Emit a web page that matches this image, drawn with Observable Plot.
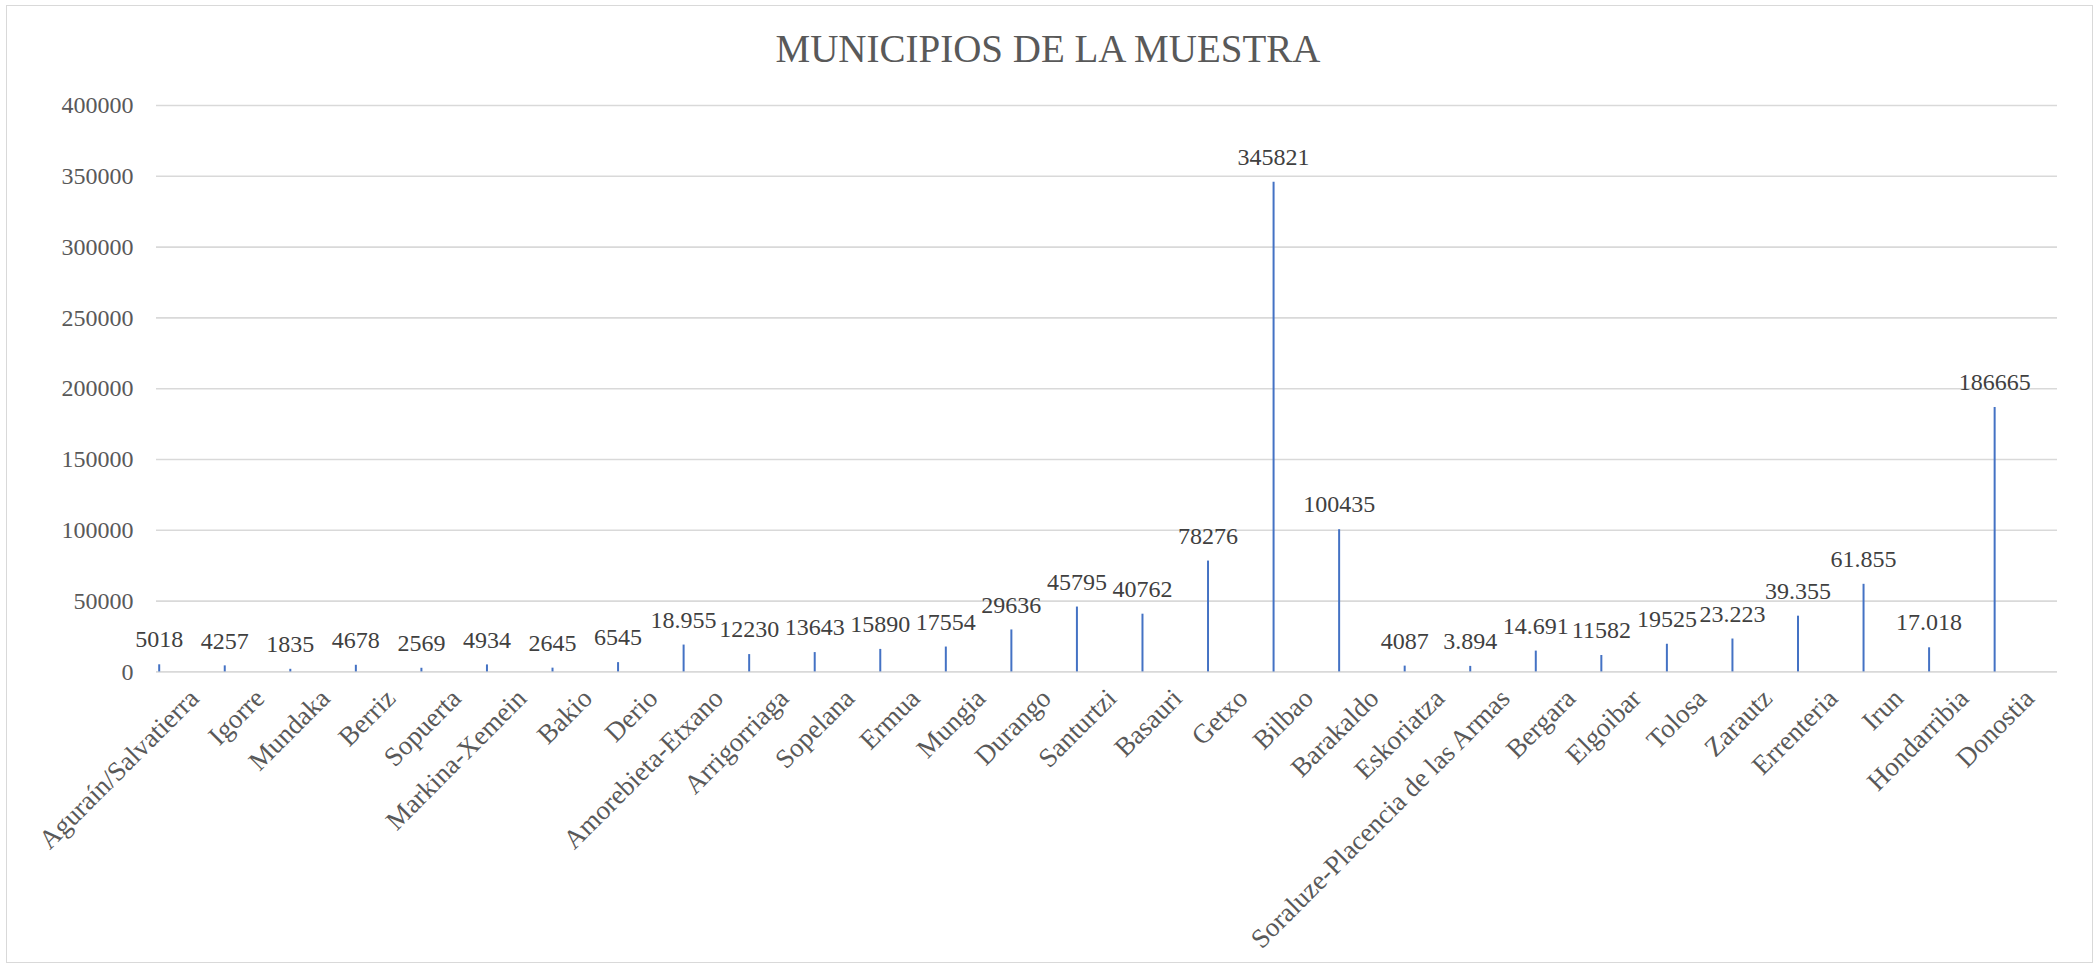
<!DOCTYPE html>
<html>
<head>
<meta charset="utf-8">
<script src="https://cdn.jsdelivr.net/npm/d3@7"></script>
<script src="https://cdn.jsdelivr.net/npm/@observablehq/plot@0.6"></script>
<style>
  html, body { margin: 0; padding: 0; background: #fff; }
  #wrap { position: relative; width: 2096px; height: 966px; overflow: hidden; }
  #frame { position: absolute; left: 6px; top: 5px; width: 2087px; height: 958px; border: 1.5px solid #d9d9d9; box-sizing: border-box; pointer-events: none; }
  #title { position: absolute; left: 0; top: 0; width: 2096px; height: 80px; text-align: center; font-family: "Liberation Serif", serif; font-size: 39px; color: #595959; line-height: 98px; }
  #chart { position: absolute; left: 0; top: 80px; }
</style>
</head>
<body>
<div id="wrap">
  <div id="title">MUNICIPIOS DE LA MUESTRA</div>
  <div id="chart"></div>
  <div id="frame"></div>
</div>
<script>
const municipios = ["Aguraín/Salvatierra","Igorre","Mundaka","Berriz","Sopuerta","Markina-Xemein","Bakio","Derio","Amorebieta-Etxano","Arrigorriaga","Sopelana","Ermua","Mungia","Durango","Santurtzi","Basauri","Getxo","Bilbao","Barakaldo","Eskoriatza","Soraluze-Placencia de las Armas","Bergara","Elgoibar","Tolosa","Zarautz","Errenteria","Irun","Hondarribia","Donostia"];
const poblacion = [5018,4257,1835,4678,2569,4934,2645,6545,18955,12230,13643,15890,17554,29636,45795,40762,78276,345821,100435,4087,3894,14691,11582,19525,23223,39355,61855,17018,186665];
const etiquetas = ["5018","4257","1835","4678","2569","4934","2645","6545","18.955","12230","13643","15890","17554","29636","45795","40762","78276","345821","100435","4087","3.894","14.691","11582","19525","23.223","39.355","61.855","17.018","186665"];
const yTicks = [0,50000,100000,150000,200000,250000,300000,350000,400000];

const data = municipios.map((m, i) => ({name: m, value: poblacion[i], label: etiquetas[i]}));

const W = 2096, H = 886;
const mL = 156, mR = 39, mT = 25, mB = 294.6;
const bw = (W - mL - mR) / municipios.length;
const off = -bw / 2 + 2.7;
const font = '"Liberation Serif", serif';

const chart = Plot.plot({
  width: W, height: H,
  marginLeft: mL, marginRight: mR, marginTop: mT, marginBottom: mB,
  style: {fontFamily: font, fontSize: "24px", color: "#595959", background: "transparent"},
  x: {type: "band", domain: municipios, padding: 0, round: false, label: null},
  y: {domain: [0, 400000], label: null},
  marks: [
    Plot.gridY(yTicks, {stroke: "#d9d9d9", strokeOpacity: 1, strokeWidth: 1.6}),
    Plot.axisY({ticks: yTicks, tickSize: 0, tickPadding: 23, tickFormat: d => String(d), label: null, fontSize: 24}),
    Plot.axisX({tickSize: 0, tickRotate: -45, tickPadding: 22, dx: 5, label: null, fontSize: 27}),
    Plot.ruleX(data, {x: "name", y1: 0, y2: "value", dx: off, stroke: "#4472C4", strokeWidth: 2}),
    Plot.text(data, {x: "name", y: "value", text: "label", dx: off, dy: -25, fontSize: 24, fill: "#404040", lineAnchor: "middle"})
  ]
});
document.getElementById("chart").appendChild(chart);
</script>
</body>
</html>
